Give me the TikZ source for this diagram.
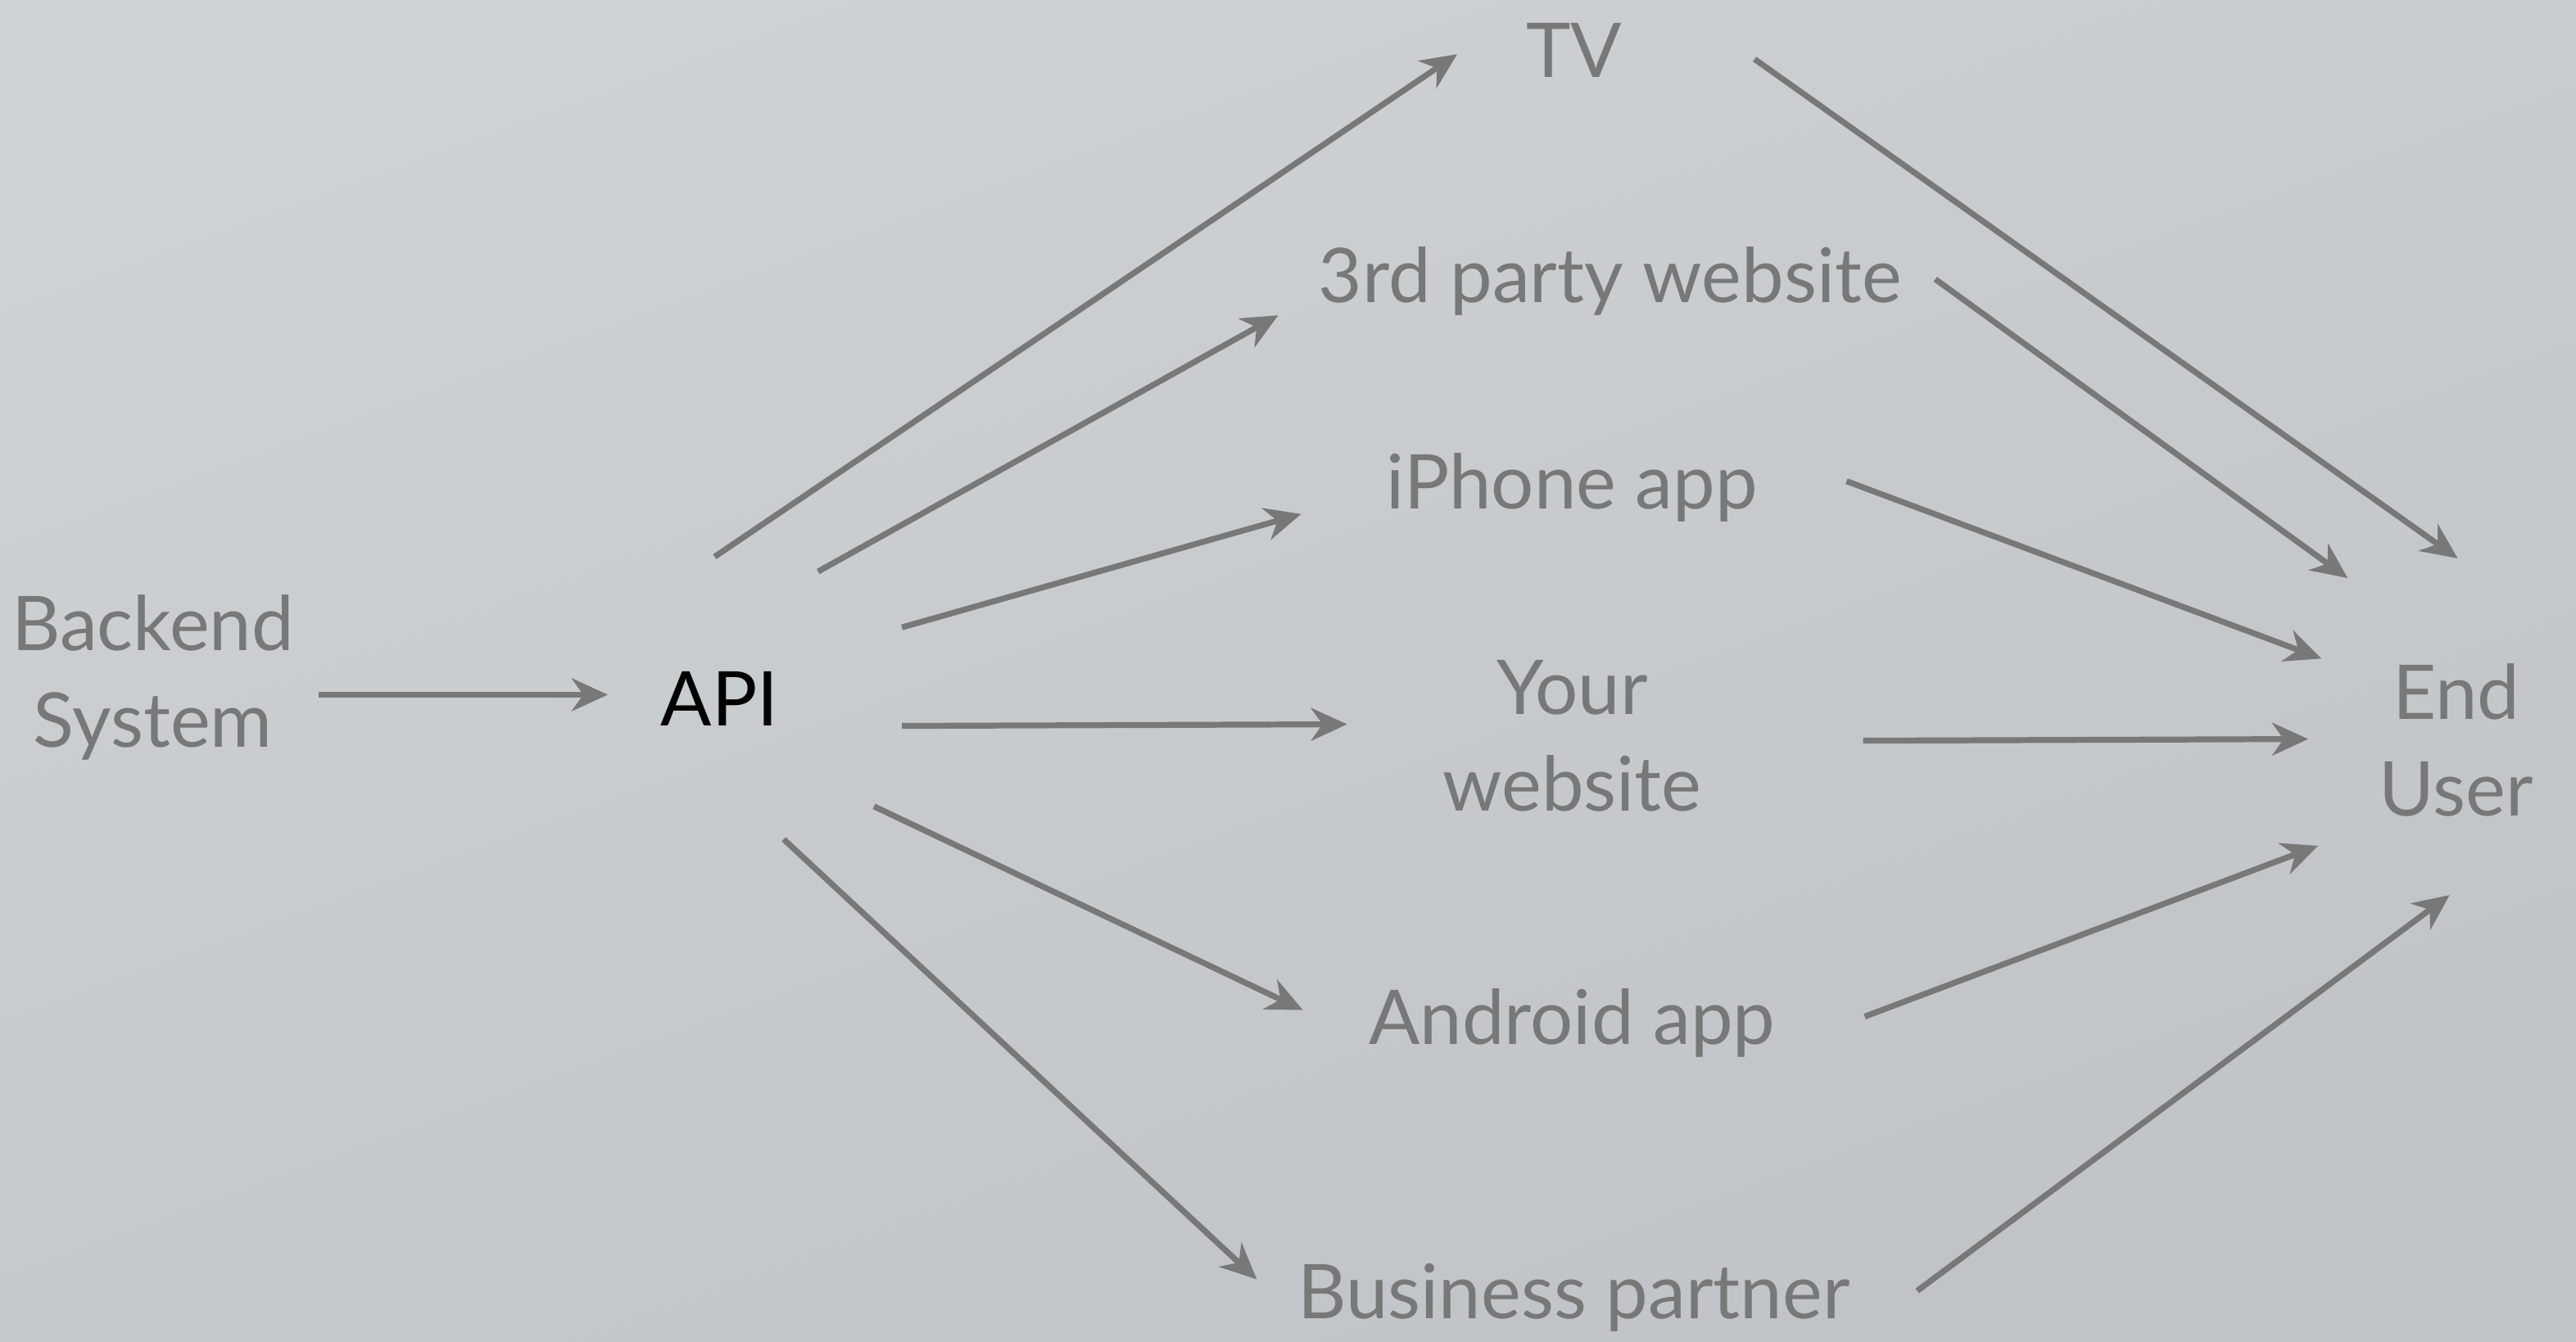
\documentclass[tikz,border=0pt]{standalone}
\usepackage{fontspec}
\setmainfont{Lato}
\usetikzlibrary{arrows.meta}
\definecolor{txtgray}{RGB}{120,120,120}
\definecolor{bgtop}{RGB}{207,210,212}
\definecolor{bgbot}{RGB}{192,195,199}
\begin{document}
\begin{tikzpicture}[x=1pt,y=-1pt,
  lbl/.style={text=txtgray,font=\fontsize{46}{59}\selectfont,inner sep=0pt,align=center,anchor=base},
  arr/.style={draw=txtgray,line width=3.6pt,-{Stealth[length=22pt,width=20pt,inset=7pt]}}]
\shade[top color=bgtop,bottom color=bgbot,shading angle=20] (0,0) rectangle (1568,817);
\useasboundingbox (0,0) rectangle (1568,817);
\node[lbl] (back) at (93,455) {Backend\\System};
\node[lbl,text=black] (api) at (438,442) {API};
\node[lbl] (tv) at (958,47) {TV};
\node[lbl] (third) at (980,184) {3rd party website};
\node[lbl] (iphone) at (957,310) {iPhone app};
\node[lbl] (your) at (957,494) {Your\\website};
\node[lbl] (android) at (957,636) {Android app};
\node[lbl] (biz) at (958,803) {Business partner};
\node[lbl] (end) at (1495,497) {End\\User};
% arrows (offsets relative to node base points)
\draw[arr] ([shift={(101,-32)}]back.base) -- ([shift={(-68,-19)}]api.base);
\draw[arr] ([shift={(-3,-103)}]api.base) -- ([shift={(-71,-14)}]tv.base);
\draw[arr] ([shift={(60,-94)}]api.base) -- ([shift={(-202,8)}]third.base);
\draw[arr] ([shift={(111,-60)}]api.base) -- ([shift={(-165,3)}]iphone.base);
\draw[arr] ([shift={(111,0)}]api.base) -- ([shift={(-137,-53)}]your.base);
\draw[arr] ([shift={(94,49)}]api.base) -- ([shift={(-164,-21)}]android.base);
\draw[arr] ([shift={(39,69)}]api.base) -- ([shift={(-193,-24)}]biz.base);
\draw[arr] ([shift={(110,-11)}]tv.base) -- ([shift={(1,-157)}]end.base);
\draw[arr] ([shift={(198,-14)}]third.base) -- ([shift={(-66,-145)}]end.base);
\draw[arr] ([shift={(167,-17)}]iphone.base) -- ([shift={(-82,-96)}]end.base);
\draw[arr] ([shift={(177,-43)}]your.base) -- ([shift={(-90,-47)}]end.base);
\draw[arr] ([shift={(178,-17)}]android.base) -- ([shift={(-84,18)}]end.base);
\draw[arr] ([shift={(209,-17)}]biz.base) -- ([shift={(-4,48)}]end.base);
\end{tikzpicture}
\end{document}
